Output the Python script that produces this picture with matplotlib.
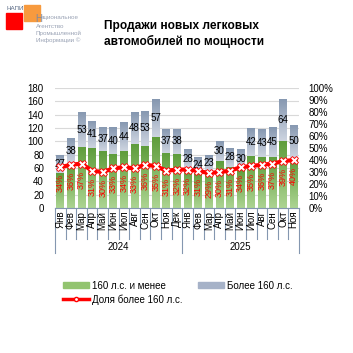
import numpy as np
import matplotlib
matplotlib.use("Agg")
from matplotlib import pyplot as plt
from matplotlib.patches import Rectangle
from matplotlib.lines import Line2D
from matplotlib.colors import LinearSegmentedColormap

plt.rcParams['font.family'] = ['Liberation Sans', 'DejaVu Sans']

months = ['Янв', 'Фев', 'Мар', 'Апр', 'Май', 'Июн', 'Июл', 'Авг', 'Сен', 'Окт', 'Ноя', 'Дек',
          'Янв', 'Фев', 'Мар', 'Апр', 'Май', 'Июн', 'Июл', 'Авг', 'Сен', 'Окт', 'Ноя']
years = ['2024', '2025']
year_len = [12, 11]

# тыс. шт.
low_power = [52, 67, 91, 90, 85, 81, 85, 96, 93, 106, 82, 81,
             60, 53, 56, 70, 62, 58, 78, 76, 77, 100, 75]
high_power = [27, 38, 53, 41, 37, 40, 44, 48, 53, 57, 37, 38,
              28, 24, 23, 30, 28, 30, 42, 43, 45, 64, 50]
share_high = [34, 36, 37, 31, 30, 33, 34, 33, 36, 35, 31, 32,
              32, 31, 29, 30, 31, 34, 35, 36, 37, 39, 40]

fs = 7
green_top, green_bot = '#5f9d3c', '#acd492'
grey_top, grey_bot = '#8597b0', '#cdd4e0'
axis_col = '#8497b0'

fig = plt.figure(figsize=(3.53, 3.53), dpi=100)
W = H = 353.0
ax = fig.add_axes([55 / W, 1 - 208 / H, 244 / W, 120 / H])

x = np.arange(len(months))
bw = 0.74


def gradient_bars(bars, c_top, c_bot):
    cmap = LinearSegmentedColormap.from_list('g', [c_bot, c_top])
    grad = np.linspace(0, 1, 64).reshape(-1, 1)
    for b in bars:
        b.set_facecolor('none')
        x0, y0 = b.get_x(), b.get_y()
        im = ax.imshow(grad, cmap=cmap, origin='lower', aspect='auto',
                       extent=[x0, x0 + b.get_width(), y0, y0 + b.get_height()],
                       zorder=1)
        im.set_clip_path(b)


b1 = ax.bar(x, low_power, width=bw, color='none', linewidth=0, zorder=1)
b2 = ax.bar(x, high_power, bottom=low_power, width=bw, color='none', linewidth=0, zorder=1)
gradient_bars(b1, green_top, green_bot)
gradient_bars(b2, grey_top, grey_bot)

for i in range(len(x)):
    ax.text(x[i], low_power[i] + high_power[i] / 2, str(high_power[i]),
            ha='center', va='center', fontsize=fs, color='black', zorder=5)

ax.set_xlim(-0.5, len(x) - 0.5)
ax.set_ylim(0, 180)
ax.set_yticks(np.arange(0, 181, 20))
ax.yaxis.grid(True, color='#d9d9d9', linewidth=0.8)
ax.set_axisbelow(True)
ax.set_xticks([])
ax.tick_params(axis='y', length=0, labelsize=fs, pad=8)
for s in ['top', 'left', 'right']:
    ax.spines[s].set_visible(False)
ax.spines['bottom'].set_color(axis_col)
ax.spines['bottom'].set_linewidth(0.8)

ax2 = ax.twinx()
ax2.set_ylim(0, 1.0)
ax2.set_yticks(np.arange(0, 1.01, 0.1))
ax2.set_yticklabels([f'{int(round(v * 100))}%' for v in np.arange(0, 1.01, 0.1)])
ax2.tick_params(axis='y', length=0, labelsize=fs, pad=7)
for s in ['top', 'left', 'right', 'bottom']:
    ax2.spines[s].set_visible(False)
share = np.array(share_high) / 100.0
ax2.plot(x, share, color='#ff0000', linewidth=3, marker='X', markersize=6,
         markerfacecolor='white', markeredgecolor='#ff0000', markeredgewidth=0.6, zorder=4)
for i in range(len(x)):
    ax2.annotate(f'{share_high[i]}%', xy=(x[i], share[i]), xytext=(0, -5),
                 textcoords='offset points', rotation=90, ha='center', va='top',
                 fontsize=6.5, color='#ff0000', zorder=5)

# категории по оси X
for i, m in enumerate(months):
    ax.annotate(m, xy=(x[i], 0), xycoords=('data', 'axes fraction'), xytext=(0, -2),
                textcoords='offset points', rotation=90, ha='center', va='top', fontsize=fs)
bounds = np.cumsum([0] + year_len)
for k in range(1, len(x)):
    if k in bounds:
        continue
    ax.plot([k - 0.5, k - 0.5], [0, -31 / 120], transform=ax.get_xaxis_transform(),
            color=axis_col, linewidth=0.8, clip_on=False)
for k in bounds:
    ax.plot([k - 0.5, k - 0.5], [0, -45 / 120], transform=ax.get_xaxis_transform(),
            color=axis_col, linewidth=0.8, clip_on=False)
for j, yr in enumerate(years):
    xc = (bounds[j] + bounds[j + 1] - 1) / 2
    ax.text(xc, -39 / 120, yr, transform=ax.get_xaxis_transform(), ha='center',
            va='center', fontsize=fs)

# легенда
handles = [Rectangle((0, 0), 1, 1, color='#92c46f'),
           Line2D([0], [0], color='#ff0000', linewidth=2.5, marker='o', markersize=3,
                  markerfacecolor='white', markeredgecolor='#ff0000'),
           Rectangle((0, 0), 1, 1, color='#a6b2c8')]
labels = ['160 л.с. и менее', 'Доля более 160 л.с.', 'Более 160 л.с.']
fig.legend(handles, labels, loc='upper left', bbox_to_anchor=(54 / W, 1 - 272 / H), ncol=2,
           frameon=False, fontsize=fs, handlelength=2.7, handleheight=0.6,
           columnspacing=1.6, labelspacing=0.35, handletextpad=0.3)

# заголовок
fig.text(104 / W, 1 - 26 / H, 'Продажи новых легковых', fontsize=8.6, fontweight='bold',
         ha='left', va='center')
fig.text(104 / W, 1 - 41 / H, 'автомобилей по мощности', fontsize=8.6, fontweight='bold',
         ha='left', va='center')

# логотип
fig.patches.append(Rectangle((6 / W, 1 - 29 / H), 16 / W, 16 / H, color='#ff0000',
                             transform=fig.transFigure, figure=fig))
fig.patches.append(Rectangle((24 / W, 1 - 21 / H), 16 / W, 16 / H, color='#f79a3e',
                             transform=fig.transFigure, figure=fig))
fig.text(6 / W, 1 - 8 / H, 'НАПИ', fontsize=4.5, color='#5a6a85', ha='left', va='center')
fig.text(35 / W, 1 - 14 / H, 'Н', fontsize=7, color='#7f8aa0', ha='left', va='top')
logo_col = '#9aa3b5'
fig.text(41 / W, 1 - 18 / H, 'ациональное', fontsize=4.5, color=logo_col, ha='left', va='center')
fig.text(36 / W, 1 - 26 / H, 'Агентство', fontsize=4.5, color=logo_col, ha='left', va='center')
fig.text(36 / W, 1 - 33 / H, 'Промышленной', fontsize=4.5, color=logo_col, ha='left', va='center')
fig.text(36 / W, 1 - 40 / H, 'Информации ©', fontsize=4.5, color=logo_col, ha='left', va='center')

fig.savefig('out.png', dpi=100)
